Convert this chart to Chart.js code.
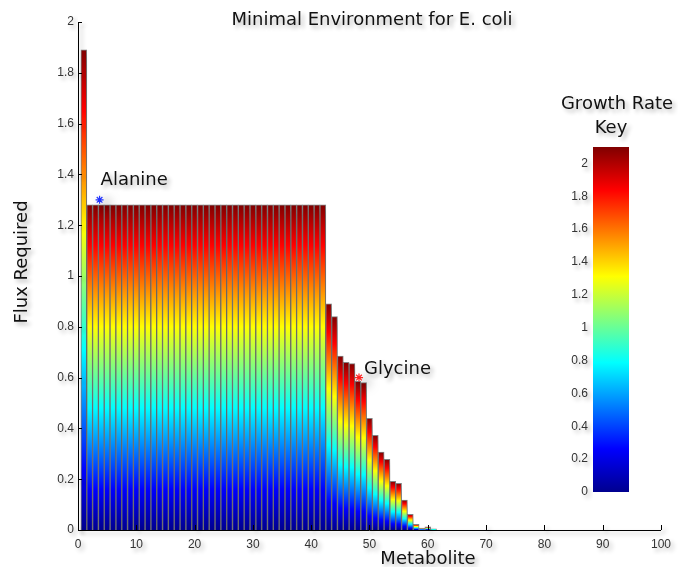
<!DOCTYPE html>
<html>
<head>
<meta charset="utf-8">
<script src="https://cdn.jsdelivr.net/npm/chart.js@4.4.1/dist/chart.umd.min.js"></script>
<style>
  html, body { margin: 0; padding: 0; background: #fff; overflow: hidden; }
  #wrap { position: relative; width: 678px; height: 567px; }
  #mainChart { position: absolute; left: 0; top: 0; }
  #keyChart { position: absolute; left: 548px; top: 80px; }
</style>
</head>
<body>
<div id="wrap">
  <canvas id="mainChart" width="678" height="567"></canvas>
  <canvas id="keyChart" width="130" height="430"></canvas>
</div>
<script>
// metabolite index and the flux each one needs
const metabolites = [1, 2, 3, 4, 5, 6, 7, 8, 9, 10, 11, 12, 13, 14, 15, 16, 17, 18, 19, 20,
  21, 22, 23, 24, 25, 26, 27, 28, 29, 30, 31, 32, 33, 34, 35, 36, 37, 38, 39, 40,
  41, 42, 43, 44, 45, 46, 47, 48, 49, 50, 51, 52, 53, 54, 55, 56, 57, 58, 59, 60, 61];
const fluxRequired = [1.89,
  1.28, 1.28, 1.28, 1.28, 1.28, 1.28, 1.28, 1.28, 1.28, 1.28,
  1.28, 1.28, 1.28, 1.28, 1.28, 1.28, 1.28, 1.28, 1.28, 1.28,
  1.28, 1.28, 1.28, 1.28, 1.28, 1.28, 1.28, 1.28, 1.28, 1.28,
  1.28, 1.28, 1.28, 1.28, 1.28, 1.28, 1.28, 1.28, 1.28, 1.28, 1.28,
  0.89, 0.84, 0.685, 0.66, 0.655, 0.585, 0.58, 0.44, 0.373, 0.307,
  0.278, 0.192, 0.184, 0.118, 0.062, 0.022, 0.008, 0.012, 0.005];

// labelled points
const markerNames = ['Alanine', 'Glycine'];
const markerX = [3.7, 48.2];
const markerY = [1.30, 0.60];

// axis ticks
const fluxTicks = [0, 0.2, 0.4, 0.6, 0.8, 1, 1.2, 1.4, 1.6, 1.8, 2];
const metaboliteTicks = [0, 10, 20, 30, 40, 50, 60, 70, 80, 90, 100];
const growthTicks = [0, 0.2, 0.4, 0.6, 0.8, 1, 1.2, 1.4, 1.6, 1.8, 2];
const growthMax = 2.1;

const jetStops = [[0, '#00008f'], [0.125, '#0000ff'], [0.375, '#00ffff'],
  [0.625, '#ffff00'], [0.875, '#ff0000'], [1, '#800000']];

function jetFill(ctx, yScale, value) {
  if (!yScale) return '#00008f';
  const y0 = yScale.getPixelForValue(0), y1 = yScale.getPixelForValue(value);
  if (!isFinite(y0) || !isFinite(y1) || y0 === y1) return '#00008f';
  const g = ctx.createLinearGradient(0, y0, 0, y1);
  jetStops.forEach(([o, c]) => g.addColorStop(o, c));
  return g;
}

function setShadow(ctx, color, blur, dx, dy) {
  ctx.shadowColor = color;
  ctx.shadowBlur = blur;
  ctx.shadowOffsetX = dx;
  ctx.shadowOffsetY = dy;
}

// soft drop shadow under everything, heavier under the bars
const shadows = {
  id: 'shadows',
  beforeDraw(chart) {
    chart.ctx.save();
    setShadow(chart.ctx, 'rgba(0,0,0,0.3)', 4, 3, 3);
  },
  beforeDatasetsDraw(chart) {
    chart.ctx.save();
    setShadow(chart.ctx, 'rgba(0,0,0,0.6)', 11, 6, 4);
  },
  afterDatasetsDraw(chart) {
    chart.ctx.restore();
  },
  afterDraw(chart) {
    chart.ctx.restore();
  }
};

// inward tick marks, titles and point labels
const decorations = {
  id: 'decorations',
  afterDraw(chart) {
    const ctx = chart.ctx;
    const x = chart.scales.x, y = chart.scales.y;
    const area = chart.chartArea;
    ctx.save();
    setShadow(ctx, 'rgba(0,0,0,0.3)', 4, 3, 3);
    ctx.strokeStyle = '#000';
    ctx.lineWidth = 1;
    ctx.beginPath();
    x.ticks.forEach(t => {
      const px = Math.round(x.getPixelForValue(t.value)) + 0.5;
      ctx.moveTo(px, area.bottom);
      ctx.lineTo(px, area.bottom - 5);
    });
    y.ticks.forEach(t => {
      const py = Math.round(y.getPixelForValue(t.value)) + 0.5;
      ctx.moveTo(area.left, py);
      ctx.lineTo(area.left + 4, py);
    });
    ctx.stroke();

    ctx.fillStyle = '#111';
    ctx.textBaseline = 'middle';
    ctx.textAlign = 'center';
    ctx.font = '18px "DejaVu Sans"';
    ctx.fillText('Minimal Environment for E. coli', 372, 20);
    ctx.fillText('Metabolite', 428, 559);
    ctx.fillText('Growth Rate', 617, 104);
    ctx.fillText('Key', 611, 128);
    ctx.save();
    ctx.translate(22, 262);
    ctx.rotate(-Math.PI / 2);
    ctx.fillText('Flux Required', 0, 0);
    ctx.restore();

    ctx.textAlign = 'left';
    const offsets = [[1, -19], [5, -8]];
    markerNames.forEach((name, i) => {
      ctx.fillText(name, x.getPixelForValue(markerX[i]) + offsets[i][0],
        y.getPixelForValue(markerY[i]) + offsets[i][1]);
    });
    ctx.restore();
  }
};

const tickFont = { family: 'Liberation Sans', size: 12 };
const plainLabel = (v) => String(v);

new Chart(document.getElementById('mainChart'), {
  type: 'bar',
  data: {
    datasets: [
      {
        type: 'scatter',
        data: markerX.map((v, i) => ({ x: v, y: markerY[i] })),
        pointStyle: 'star',
        pointRadius: 4,
        borderWidth: 1.2,
        borderColor: ['#2233ff', '#ff2020'],
        backgroundColor: ['#2233ff', '#ff2020'],
        order: 0
      },
      {
        data: metabolites.map((m, i) => ({ x: m, y: fluxRequired[i] })),
        backgroundColor: (c) => {
          if (!c.raw) return '#00008f';
          return jetFill(c.chart.ctx, c.chart.scales.y, c.raw.y);
        },
        borderColor: 'rgba(105,105,105,0.8)',
        borderWidth: 1,
        barPercentage: 1,
        categoryPercentage: 1,
        order: 1
      }
    ]
  },
  options: {
    responsive: false,
    animation: false,
    layout: { padding: { top: 22, right: 11, bottom: 0, left: 0 } },
    plugins: {
      legend: { display: false },
      tooltip: { enabled: false }
    },
    scales: {
      x: {
        type: 'linear',
        min: 0,
        max: 100,
        offset: false,
        afterBuildTicks: (s) => { s.ticks = metaboliteTicks.map(v => ({ value: v })); },
        afterFit: (s) => { s.height = 37; },
        grid: { display: false, drawTicks: false, offset: false },
        border: { display: true, color: '#000', width: 1 },
        ticks: { color: '#333', font: tickFont, padding: 7, maxRotation: 0, callback: plainLabel }
      },
      y: {
        min: 0,
        max: 2,
        afterBuildTicks: (s) => { s.ticks = fluxTicks.map(v => ({ value: v })); },
        afterFit: (s) => { s.width = 78; },
        grid: { display: false, drawTicks: false },
        border: { display: true, color: '#000', width: 1 },
        ticks: { color: '#333', font: tickFont, padding: 4, callback: plainLabel }
      }
    }
  },
  plugins: [shadows, decorations]
});

// colour key
new Chart(document.getElementById('keyChart'), {
  type: 'bar',
  data: {
    labels: [''],
    datasets: [{
      data: [growthMax],
      backgroundColor: (c) => jetFill(c.chart.ctx, c.chart.scales.y, growthMax),
      borderWidth: 0,
      barPercentage: 1,
      categoryPercentage: 1
    }]
  },
  options: {
    responsive: false,
    animation: false,
    layout: { padding: { top: 67, right: 49, bottom: 18, left: 0 } },
    plugins: {
      legend: { display: false },
      tooltip: { enabled: false }
    },
    scales: {
      x: { display: false },
      y: {
        min: 0,
        max: growthMax,
        afterBuildTicks: (s) => { s.ticks = growthTicks.map(v => ({ value: v })); },
        afterFit: (s) => { s.width = 45; },
        grid: { display: false, drawTicks: false },
        border: { display: false },
        ticks: { color: '#333', font: tickFont, padding: 5, callback: plainLabel }
      }
    }
  },
  plugins: [shadows]
});
</script>
</body>
</html>
